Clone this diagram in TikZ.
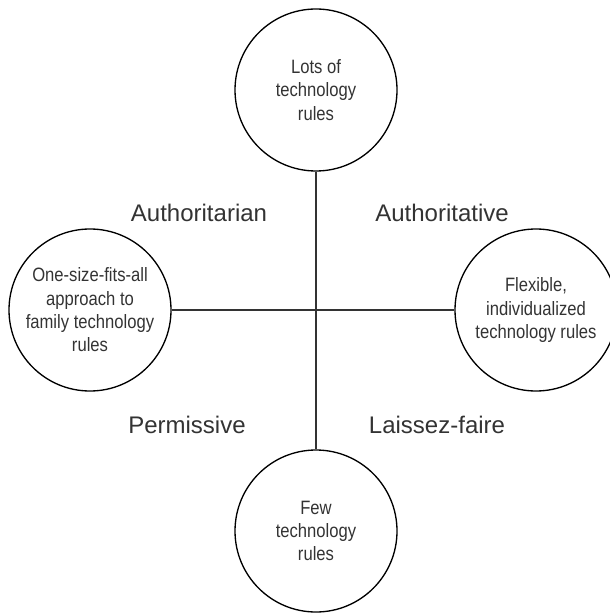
\documentclass[tikz,border=0pt]{standalone}
\usepackage{fontspec}
\setmainfont{Liberation Sans}
\newfontfamily\narrowfont[FakeStretch=0.86]{Liberation Sans}
\usepackage{tikz}
\definecolor{inkgray}{HTML}{333333}
\tikzstyle{rulecircle}=[circle,draw=black,line width=1pt,minimum size=121.5pt,inner sep=0pt,align=center,text=inkgray,font=\narrowfont\fontsize{14.5}{17.5}\selectfont]
\tikzstyle{quadrant}=[text=inkgray,font=\fontsize{18}{20}\selectfont,inner sep=0pt]

\begin{document}
\begin{tikzpicture}[x=0.75pt,y=-0.75pt]
        \useasboundingbox (0,0) rectangle (609,616);
        \node[rulecircle] (lots) at (316,90) {Lots of\\technology\\rules};
        \node[rulecircle] (onesize) at (90,310) {One-size-fits-all\\approach to\\family technology\\rules};
        \node[rulecircle] (flexible) at (536,310) {Flexible,\\individualized\\technology rules};
        \node[rulecircle] (few) at (316,531) {Few\\technology\\rules};
        \draw[inkgray,line width=0.9pt] (lots) -- (few);
        \draw[inkgray,line width=0.9pt] (onesize) -- (flexible);
        \node[quadrant] (authoritarian) at (199,213) {Authoritarian};
        \node[quadrant] (authoritative) at (442,213) {Authoritative};
        \node[quadrant] (permissive) at (187,425) {Permissive};
        \node[quadrant] (laissez) at (437,425) {Laissez-faire};
\end{tikzpicture}
\end{document}
